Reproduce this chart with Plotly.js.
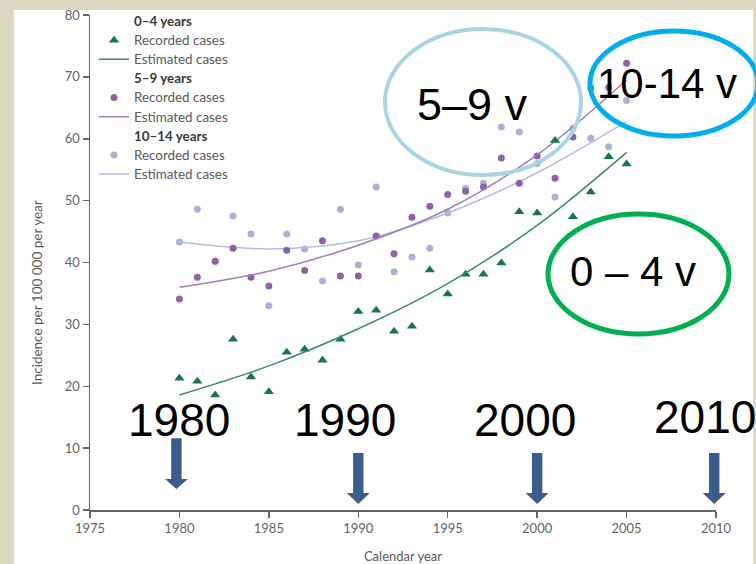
<!DOCTYPE html>
<html>
<head>
<meta charset="utf-8">
<script src="https://cdn.plot.ly/plotly-3.0.1.min.js"></script>
<style>html,body{margin:0;padding:0;background:#DDD9C4;}#chart{width:756px;height:564px;}</style>
</head>
<body>
<div id="chart"></div>
<script>
// ---- data ----
const years = [1980,1981,1982,1983,1984,1985,1986,1987,1988,1989,1990,1991,1992,1993,1994,1995,1996,1997,1998,1999,2000,2001,2002,2003,2004,2005];
const recorded04 = [21.3,20.8,18.6,27.6,21.5,19.1,25.5,26.0,24.2,27.6,32.1,32.3,28.9,29.7,38.8,34.9,38.1,38.1,39.9,48.2,48.0,59.7,47.4,51.4,57.1,55.9];
const recorded59 = [34.1,37.6,40.2,42.3,37.6,36.2,42.0,38.7,43.5,37.8,37.8,44.3,41.4,47.3,49.1,51.0,51.5,52.2,56.9,52.8,57.2,53.6,60.3,68.2,68.3,72.2];
const recorded1014 = [43.3,48.6,40.2,47.5,44.6,33.0,44.6,42.2,37.0,48.6,39.6,52.2,38.5,40.9,42.3,48.0,52.0,52.8,61.9,61.1,56.0,50.6,61.7,60.1,58.7,66.2];
const fitYears = [1980,1985,1990,1995,2000,2005];
const estimated04 = [18.6,23.3,29.3,36.6,46.0,57.8];
const estimated59 = [36.0,38.6,42.8,48.6,57.4,69.5];
const estimated1014 = [43.3,42.2,43.5,48.0,54.5,62.8];
const groupTitles = ['0–4 years','5–9 years','10–14 years'];
const itemNames = ['Recorded cases','Estimated cases'];
const tickYearsX = [1975,1980,1985,1990,1995,2000,2005,2010];
const tickValsY = [0,10,20,30,40,50,60,70,80];
const bigYearLabels = ['1980','1990','2000','2010'];
const bigYearPos = [1980,1989.25,1999.33,2009.4];
const arrowYears = [1979.83,1990,2000,2009.9];
const ageLabels = ['5–9 v','10-14 v','0 – 4 v'];

// ---- styles ----
const C04 = '#17774A', C04L = '#3C8C63';
const C59 = '#8C63A8', C59L = '#A07DBB';
const C1014 = '#A8B1D9', C1014L = '#B5BDE2';
const FONT = 'Lato, "Open Sans", sans-serif';
const legendFont = {family:FONT, size:12.4, color:'#5a5a5a'};
const big = t => '<span style="font-size:13.4px">'+t+'</span>';

function header(txt, rank){
  return {x:[null], y:[null], type:'scatter', mode:'markers', name:'<b><span style="color:#3a3a3a;font-size:13.4px">'+txt+'</span></b>',
    marker:{color:'rgba(0,0,0,0)', size:1}, legendrank:rank, hoverinfo:'skip'};
}
const traces = [
  header(groupTitles[2],7),
  {x:years, y:recorded1014, type:'scatter', mode:'markers', name:big(itemNames[0]), legendrank:8,
   marker:{symbol:'circle', size:7, color:C1014}},
  {x:fitYears, y:estimated1014, type:'scatter', mode:'lines', name:big(itemNames[1]), legendrank:9,
   line:{color:C1014L, width:1.5, shape:'spline'}},
  header(groupTitles[1],4),
  {x:years, y:recorded59, type:'scatter', mode:'markers', name:big(itemNames[0]), legendrank:5,
   marker:{symbol:'circle', size:7, color:C59}},
  {x:fitYears, y:estimated59, type:'scatter', mode:'lines', name:big(itemNames[1]), legendrank:6,
   line:{color:C59L, width:1.5, shape:'spline'}},
  header(groupTitles[0],1),
  {x:years, y:recorded04, type:'scatter', mode:'markers', name:big(itemNames[0]), legendrank:2,
   marker:{symbol:'triangle-up', size:9, color:C04}},
  {x:fitYears, y:estimated04, type:'scatter', mode:'lines', name:big(itemNames[1]), legendrank:3,
   line:{color:C04L, width:1.5, shape:'spline'}}
];

// pixel helpers for decorative shapes (paper coordinates)
const L=90, R=40, T=15, B=54, W=756, H=564;
const pw = W-L-R, ph = H-T-B;
const px = v => (v-L)/pw;
const py = v => (H-B-v)/ph;
const XR = [1975,2010], YR = [0,80];
const dx = v => (v-XR[0])/(XR[1]-XR[0]);
const dy = v => (v-YR[0])/(YR[1]-YR[0]);

const shapes = [
  {type:'rect', xref:'paper', yref:'paper', x0:px(14), x1:px(753), y0:py(600), y1:py(10),
   fillcolor:'#FFFFFF', line:{width:0}, layer:'below'},
  {type:'circle', xref:'paper', yref:'paper', x0:px(385), x1:px(581), y0:py(175), y1:py(29),
   line:{color:'#A9D5E3', width:4}},
  {type:'circle', xref:'paper', yref:'paper', x0:px(590), x1:px(758), y0:py(136), y1:py(31),
   line:{color:'#00AEEF', width:5}},
  {type:'circle', xref:'paper', yref:'paper', x0:px(548), x1:px(729), y0:py(334), y1:py(214),
   line:{color:'#00B050', width:5}}
];
// block arrows (positioned from data values, drawn in paper space so they are not clipped)
const arrowTop = [11.6, 9.2, 9.2, 9.2];
const arrowHead = [5.0, 2.75, 2.75, 2.75];
const arrowTip = [3.4, 0.97, 0.97, 0.97];
arrowYears.forEach((x,i)=>{
  const s=0.29, h=0.64;
  const P = (a,b)=> dx(a).toFixed(5)+','+dy(b).toFixed(5);
  shapes.push({type:'path', xref:'paper', yref:'paper',
    path:`M ${P(x-s,arrowTop[i])} L ${P(x+s,arrowTop[i])} L ${P(x+s,arrowHead[i])} L ${P(x+h,arrowHead[i])} L ${P(x,arrowTip[i])} L ${P(x-h,arrowHead[i])} L ${P(x-s,arrowHead[i])} Z`,
    fillcolor:'#3A5D8C', line:{width:0}});
});

const bigFont = {family:'"Liberation Sans", Arial, sans-serif', size:46, color:'#000'};
const annotations = [];
bigYearLabels.forEach((t,i)=>{
  annotations.push({x:bigYearPos[i], y:i===3?15.1:14.6, xref:'x', yref:'y', text:t, showarrow:false,
    xanchor:'center', yanchor:'middle', font:bigFont});
});
annotations.push({x:px(472), y:py(104), xref:'paper', yref:'paper', text:ageLabels[0], showarrow:false,
  xanchor:'center', yanchor:'middle', font:{...bigFont, size:45}});
annotations.push({x:px(667), y:py(83), xref:'paper', yref:'paper', text:ageLabels[1], showarrow:false,
  xanchor:'center', yanchor:'middle', font:{...bigFont, size:42}});
annotations.push({x:px(633), y:py(271), xref:'paper', yref:'paper', text:ageLabels[2], showarrow:false,
  xanchor:'center', yanchor:'middle', font:{...bigFont, size:42}});
annotations.push({x:px(37), y:py(293), xref:'paper', yref:'paper', text:'Incidence per 100 000 per year',
  textangle:-90, showarrow:false, xanchor:'center', yanchor:'middle',
  font:{family:FONT, size:13.5, color:'#5a5a5a'}});

const axisCommon = {showgrid:false, zeroline:false, showline:true, linecolor:'#666', linewidth:1.5,
  ticks:'outside', ticklen:6, tickwidth:1.5, tickcolor:'#666',
  tickfont:{family:FONT, size:13, color:'#666'}, fixedrange:true};

const layout = {
  width:W, height:H, margin:{l:L, r:R, t:T, b:B, autoexpand:false},
  paper_bgcolor:'#DDD9C4', plot_bgcolor:'rgba(0,0,0,0)',
  xaxis:{...axisCommon, range:XR, tickvals:tickYearsX, ticktext:tickYearsX.map(String),
    title:{text:'Calendar year', standoff:17, font:{family:FONT, size:13, color:'#5a5a5a'}}},
  yaxis:{...axisCommon, range:YR, tickvals:tickValsY, ticktext:tickValsY.map(String)},
  showlegend:true,
  legend:{x:px(94), y:py(6.5), xanchor:'left', yanchor:'top', bgcolor:'rgba(0,0,0,0)',
    font:legendFont, itemwidth:30, tracegroupgap:0, traceorder:'normal'},
  shapes:shapes, annotations:annotations
};
Plotly.newPlot('chart', traces, layout, {displayModeBar:false, staticPlot:true});
</script>
</body>
</html>
